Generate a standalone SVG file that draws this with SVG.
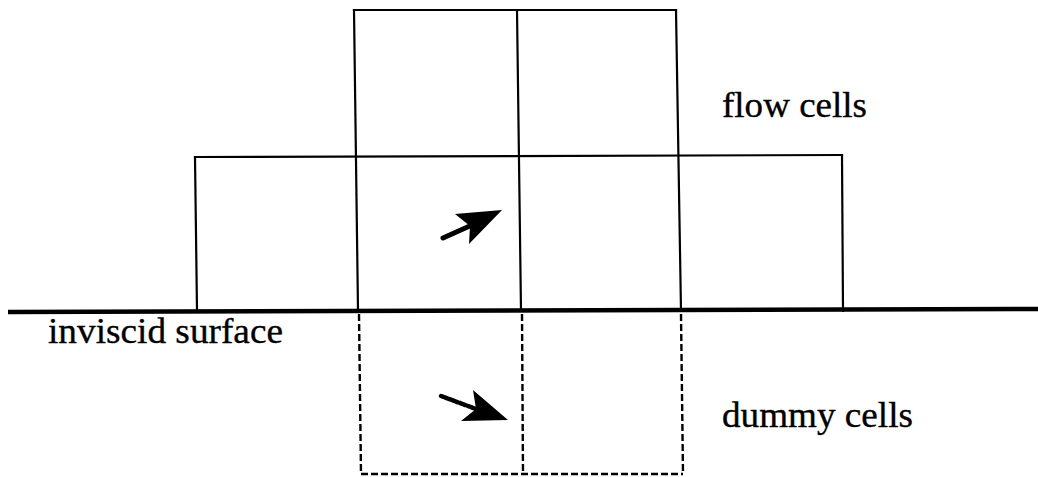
<svg xmlns="http://www.w3.org/2000/svg" width="1038" height="477" viewBox="0 0 1038 477">
<style>
.s{fill:none;stroke:#000;stroke-width:2.2;stroke-linecap:square}
.d{fill:none;stroke:#000;stroke-width:2.4;stroke-dasharray:7 3}
.t{font-family:"Liberation Serif","Times New Roman",serif;font-size:36px;fill:#000;stroke:#000;stroke-width:0.35}
</style>
<rect width="1038" height="477" fill="#fff"/>
<g id="flow-cells">
<path class="s" d="M354,10 L676,10"/>
<path class="s" d="M354,10 L358,311"/>
<path class="s" d="M517,10 L521,311"/>
<path class="s" d="M676,10 L681,311"/>
<path class="s" d="M195,157 L842,155"/>
<path class="s" d="M195,157 L197,311"/>
<path class="s" d="M842,155 L843,311"/>
</g>
<g id="surface">
<path d="M8,312 L1038,309" fill="none" stroke="#000" stroke-width="4.5"/>
</g>
<g id="dummy-cells">
<path class="d" d="M359,314 L361,474"/>
<path class="d" d="M522,314 L523,474"/>
<path class="d" d="M681,314 L683,474"/>
<path class="d" d="M361,474 L683,474" stroke-dasharray="10 4"/>
</g>
<g id="connectors">
<path d="M443,238 L472,225" stroke="#000" stroke-width="5" stroke-linecap="round" fill="none"/>
<polygon points="455,214 502,210 469,244 470,226"/>
<path d="M441,396 L476,409" stroke="#000" stroke-width="4.5" stroke-linecap="round" stroke-dasharray="2 2" fill="none"/>
<polygon points="473,390 508,420 461,421 476,409"/>
</g>
<g id="labels">
<text class="t" x="722" y="117" textLength="145" lengthAdjust="spacingAndGlyphs">flow cells</text>
<text class="t" x="48" y="343" textLength="235" lengthAdjust="spacingAndGlyphs">inviscid surface</text>
<text class="t" x="722" y="427" textLength="191" lengthAdjust="spacingAndGlyphs">dummy cells</text>
</g>
</svg>
